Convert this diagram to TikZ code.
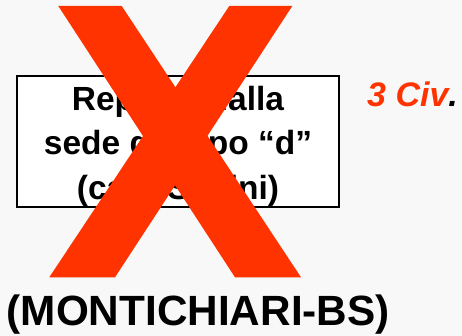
\documentclass[tikz,border=0pt]{standalone}
\usepackage{fontspec}
\setmainfont{Liberation Sans}
\usetikzlibrary{positioning}
\definecolor{crossred}{HTML}{FF3300}
\definecolor{slide}{HTML}{F8F8F8}
\begin{document}
\begin{tikzpicture}[
				x=1pt, y=-1pt,
				panel/.style={draw, line width=1.5pt, fill=white, minimum width=322pt, minimum height=131pt, inner sep=0pt},
				boxtext/.style={align=center, inner sep=0pt, font=\fontsize{33.5}{44.5}\selectfont\bfseries},
				place/.style={inner sep=0pt, font=\fontsize{42.3}{46}\selectfont\bfseries},
				civ/.style={inner sep=0pt, text=crossred, font=\fontsize{34}{38}\selectfont\bfseries\itshape},
				cross/.style={fill=crossred, draw=none},
			]
				\fill[slide] (0,0) rectangle (462,336);
				\node (sede) [panel] at (178,141.5) {};
				\node (sedetxt) [boxtext] at (178,146) {Reparto dalla\\sede del tipo “d”\\(cap. Sabini)};
				\node (civ) [civ, anchor=base west] at (367,107) {3 Civ\textcolor{black}{.}};
				\node (luogo) [place, anchor=base west] at (6.5,325) {(MONTICHIARI-BS)};
				
				\fill[cross] (58.3,6) -- (121.7,6) -- (301,277.3) -- (235,277.3) -- cycle;
				\fill[cross] (229.3,6) -- (292.3,6) -- (115,277.3) -- (49.3,277.3) -- cycle;
			\end{tikzpicture}
\end{document}
